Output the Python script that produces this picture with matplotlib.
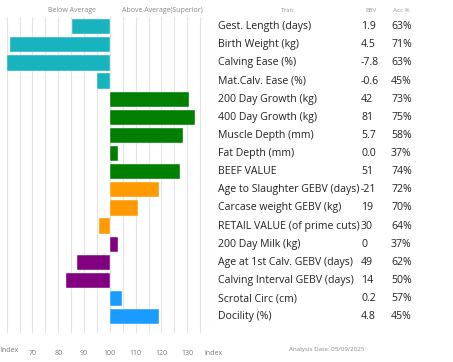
import matplotlib
matplotlib.use("Agg")
import matplotlib.pyplot as plt

traits = ["Gest. Length (days)", "Birth Weight (kg)", "Calving Ease (%)", "Mat.Calv. Ease (%)",
          "200 Day Growth (kg)", "400 Day Growth (kg)", "Muscle Depth (mm)", "Fat Depth (mm)",
          "BEEF VALUE", "Age to Slaughter GEBV (days)", "Carcase weight GEBV (kg)",
          "RETAIL VALUE (of prime cuts)", "200 Day Milk (kg)", "Age at 1st Calv. GEBV (days)",
          "Calving Interval GEBV (days)", "Scrotal Circ (cm)", "Docility (%)"]
ebv = ["1.9", "4.5", "-7.8", "-0.6", "42", "81", "5.7", "0.0", "51", "-21", "19", "30",
       "0", "49", "14", "0.2", "4.8"]
acc = ["63%", "71%", "63%", "45%", "73%", "75%", "58%", "37%", "74%", "72%", "70%", "64%",
       "37%", "62%", "50%", "57%", "45%"]
index = [85.2, 61.2, 60.2, 95.1, 130.7, 133.1, 128.2, 103.1, 127.1, 119.1, 111.1, 95.9,
         103.1, 87.1, 82.9, 104.9, 119.1]
group = ["calv"] * 4 + ["grow"] * 5 + ["carc"] * 3 + ["fert"] * 3 + ["other"] * 2
COLORS = {"calv": "#17B3BE", "grow": "#007F00", "carc": "#FF9A00",
          "fert": "#800080", "other": "#1A9CFF"}
xticks = [70, 80, 90, 100, 110, 120, 130, 140]
xlabels = ["70", "80", "90", "100", "110", "120", "130", "Index"]

plt.rcParams['font.family'] = ['Open Sans', 'DejaVu Sans']
W, H = 453, 362
fig = plt.figure(figsize=(W / 100, H / 100), dpi=100)

# bar panel: px x 0..213, y 17..333
ax = fig.add_axes([0, 1 - 333 / H, 213 / W, 316 / H])
n = len(traits)
ys = list(range(n))
ax.barh(ys, [v - 100 for v in index], left=100, height=0.845,
        color=[COLORS[g] for g in group], edgecolor="white", linewidth=0.3, zorder=2)
ax.set_xlim(57.4, 140.0)
ax.set_ylim(16.9, -0.535)
for x in range(60, 141, 5):
    ax.axvline(x, color="#e4e4e4", linewidth=0.8, zorder=1)
ax.set_xticks(xticks)
ax.set_xticklabels(xlabels, fontsize=5, color="#777777")
ax.tick_params(axis="x", length=0, pad=12)
ax.set_yticks([])
for s in ax.spines.values():
    s.set_visible(False)
# left "Index" label (starts at the figure edge)
fig.text(0.5 / W, 1 - 350 / H, "Index", fontsize=5, color="#777777", ha="left", va="center")

fig.text(72 / W, 1 - 11 / H, "Below Average", fontsize=5, color="#888888", ha="center", va="center")
fig.text(162 / W, 1 - 11 / H, "Above Average(Superior)", fontsize=5, color="#888888",
         ha="center", va="center")

# table
fig.text(288 / W, 1 - 10 / H, "Trait", fontsize=4.5, color="#999999", ha="center", va="center")
fig.text(371 / W, 1 - 10 / H, "EBV", fontsize=4.5, color="#999999", ha="center", va="center")
fig.text(401 / W, 1 - 10 / H, "Acc %", fontsize=4.5, color="#999999", ha="center", va="center")
for i in range(n):
    yc = 1 - (26.7 + 18.125 * i) / H
    fig.text(218 / W, yc, traits[i], fontsize=7.6, color="#222222", va="center")
    fig.text(361 / W, yc, ebv[i], fontsize=7.6, color="#222222", va="center")
    fig.text(391 / W, yc, acc[i], fontsize=7.6, color="#222222", va="center")

fig.text(327 / W, 1 - 349 / H, "Analysis Date: 05/09/2025", fontsize=4.5, color="#888888",
         ha="center", va="center")

fig.savefig("out.png", dpi=100)
